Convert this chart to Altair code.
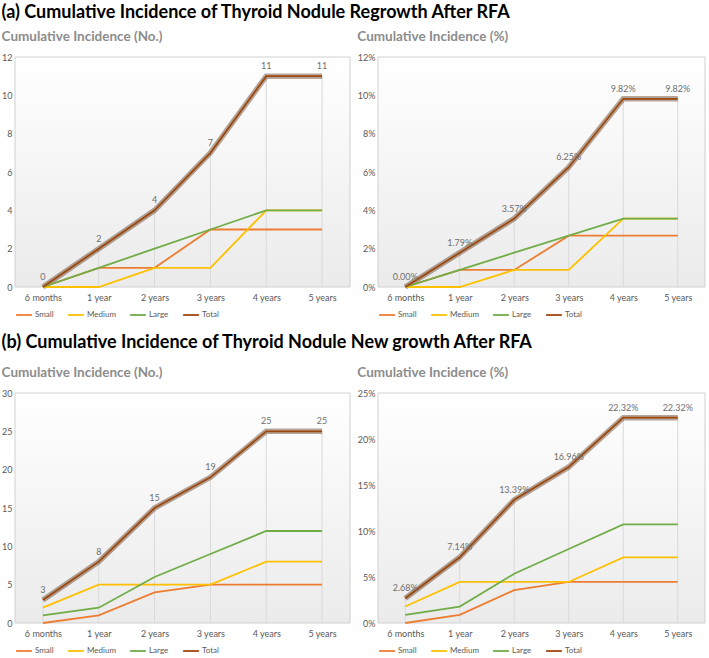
import altair as alt
import pandas as pd

periods = ["6 months", "1 year", "2 years", "3 years", "4 years", "5 years"]
series = ["Small", "Medium", "Large", "Total"]
colors = ["#ED7D31", "#FFC000", "#70AD47", "#9E480E"]

# (a) Regrowth – counts
a_no_small = [0, 1, 1, 3, 3, 3]
a_no_medium = [0, 0, 1, 1, 4, 4]
a_no_large = [0, 1, 2, 3, 4, 4]
a_no_total = [0, 2, 4, 7, 11, 11]
# (a) Regrowth – percent
a_pct_small = [0.00, 0.89, 0.89, 2.68, 2.68, 2.68]
a_pct_medium = [0.00, 0.00, 0.89, 0.89, 3.57, 3.57]
a_pct_large = [0.00, 0.89, 1.79, 2.68, 3.57, 3.57]
a_pct_total = [0.00, 1.79, 3.57, 6.25, 9.82, 9.82]
# (b) New growth – counts
b_no_small = [0, 1, 4, 5, 5, 5]
b_no_medium = [2, 5, 5, 5, 8, 8]
b_no_large = [1, 2, 6, 9, 12, 12]
b_no_total = [3, 8, 15, 19, 25, 25]
# (b) New growth – percent
b_pct_small = [0.00, 0.89, 3.57, 4.46, 4.46, 4.46]
b_pct_medium = [1.79, 4.46, 4.46, 4.46, 7.14, 7.14]
b_pct_large = [0.89, 1.79, 5.36, 8.04, 10.71, 10.71]
b_pct_total = [2.68, 7.14, 13.39, 16.96, 22.32, 22.32]

y_ticks_a_no = [0, 2, 4, 6, 8, 10, 12]
y_ticks_a_pct = [0, 2, 4, 6, 8, 10, 12]
y_ticks_b_no = [0, 5, 10, 15, 20, 25, 30]
y_ticks_b_pct = [0, 5, 10, 15, 20, 25]

FONT = "Lato"
GRAY = "#595959"

def panel(vals, ticks, pct, subtitle, W, H):
    rows = []
    for s, v in zip(series, vals):
        for p, x in zip(periods, v):
            rows.append({"period": p, "series": s, "value": x})
    df = pd.DataFrame(rows)
    tot = pd.DataFrame({"period": periods, "value": vals[3], "zero": [0] * len(periods)})
    if pct:
        tot["label"] = [f"{v:.2f}%" for v in vals[3]]
    else:
        tot["label"] = [str(v) for v in vals[3]]

    xenc = alt.X("period:O", sort=periods,
                 scale=alt.Scale(type="point", padding=0.5),
                 axis=alt.Axis(title=None, labelAngle=0, ticks=False, domain=False,
                               labelColor=GRAY, labelFontSize=9, labelFont=FONT,
                               labelPadding=6))
    yscale = alt.Scale(domain=[ticks[0], ticks[-1]], nice=False)
    yaxis = alt.Axis(title=None, values=ticks, grid=False, ticks=False, domain=False,
                     labelColor=GRAY, labelFontSize=9, labelFont=FONT, labelPadding=3,
                     labelExpr="datum.value + '%'" if pct else "datum.label")

    bg = alt.Chart(pd.DataFrame({"a": [0]})).mark_rect(
        fill=alt.LinearGradient(gradient="linear",
                                stops=[alt.GradientStop(color="#ffffff", offset=0),
                                       alt.GradientStop(color="#ebebeb", offset=1)],
                                x1=0, x2=0, y1=0, y2=1),
        stroke="#d0d0d0", strokeWidth=1
    ).encode(x=alt.value(0), x2=alt.value(W), y=alt.value(0), y2=alt.value(H))

    drops = alt.Chart(tot).mark_rule(color="#d9d9d9", strokeWidth=1).encode(
        x=xenc, y=alt.Y("zero:Q", scale=yscale, axis=yaxis), y2="value:Q")

    shadow = alt.Chart(df[df.series == "Total"]).mark_line(
        color="#4a2206", opacity=0.4, strokeWidth=5.5).encode(
        x=xenc, y=alt.Y("value:Q", scale=yscale, axis=yaxis))

    lg = alt.Legend(title=None, orient="bottom", direction="horizontal",
                    symbolType="stroke", labelFont=FONT, labelFontSize=8,
                    labelColor=GRAY, symbolSize=250, columnPadding=10,
                    labelOffset=2, offset=4)
    lines = alt.Chart(df).mark_line().encode(
        x=xenc,
        y=alt.Y("value:Q", scale=yscale, axis=yaxis),
        color=alt.Color("series:N", sort=series,
                        scale=alt.Scale(domain=series, range=colors), legend=lg),
        strokeWidth=alt.StrokeWidth("series:N", sort=series,
                                    scale=alt.Scale(domain=series, range=[1.8, 1.8, 1.8, 4]),
                                    legend=lg),
        order=alt.Order("order:Q"),
    ).transform_calculate(order="indexof(['Small','Medium','Large','Total'], datum.series)")

    labels = alt.Chart(tot).mark_text(dy=-10, fontSize=9, font=FONT, color="#6f6f6f").encode(
        x=xenc, y=alt.Y("value:Q", scale=yscale, axis=yaxis), text="label:N")

    return alt.layer(bg, drops, shadow, lines, labels).properties(
        width=W, height=H,
        title=alt.TitleParams(subtitle, anchor="start", fontSize=13.5, font=FONT,
                              fontWeight="bold", color="#8c8c8c", offset=10))

W1, W2, H = 335, 327, 230
pa = alt.hconcat(
    panel([a_no_small, a_no_medium, a_no_large, a_no_total], y_ticks_a_no, False,
          "Cumulative Incidence (No.)", W1, H),
    panel([a_pct_small, a_pct_medium, a_pct_large, a_pct_total], y_ticks_a_pct, True,
          "Cumulative Incidence (%)", W2, H),
    spacing=6,
).resolve_scale(x="independent", y="independent", color="independent",
                strokeWidth="independent").properties(
    title=alt.TitleParams("(a) Cumulative Incidence of Thyroid Nodule Regrowth After RFA",
                          anchor="start", fontSize=18, font=FONT, fontWeight="bold",
                          color="#000000", offset=8))
pb = alt.hconcat(
    panel([b_no_small, b_no_medium, b_no_large, b_no_total], y_ticks_b_no, False,
          "Cumulative Incidence (No.)", W1, H),
    panel([b_pct_small, b_pct_medium, b_pct_large, b_pct_total], y_ticks_b_pct, True,
          "Cumulative Incidence (%)", W2, H),
    spacing=6,
).resolve_scale(x="independent", y="independent", color="independent",
                strokeWidth="independent").properties(
    title=alt.TitleParams("(b) Cumulative Incidence of Thyroid Nodule New growth After RFA",
                          anchor="start", fontSize=18, font=FONT, fontWeight="bold",
                          color="#000000", offset=14))

chart = alt.vconcat(pa, pb, spacing=14).configure(
    padding={"left": 1, "top": 3, "right": 0, "bottom": 0}
).configure_view(stroke=None)

chart.save("out.html", embed_options={"renderer": "svg", "actions": False})
